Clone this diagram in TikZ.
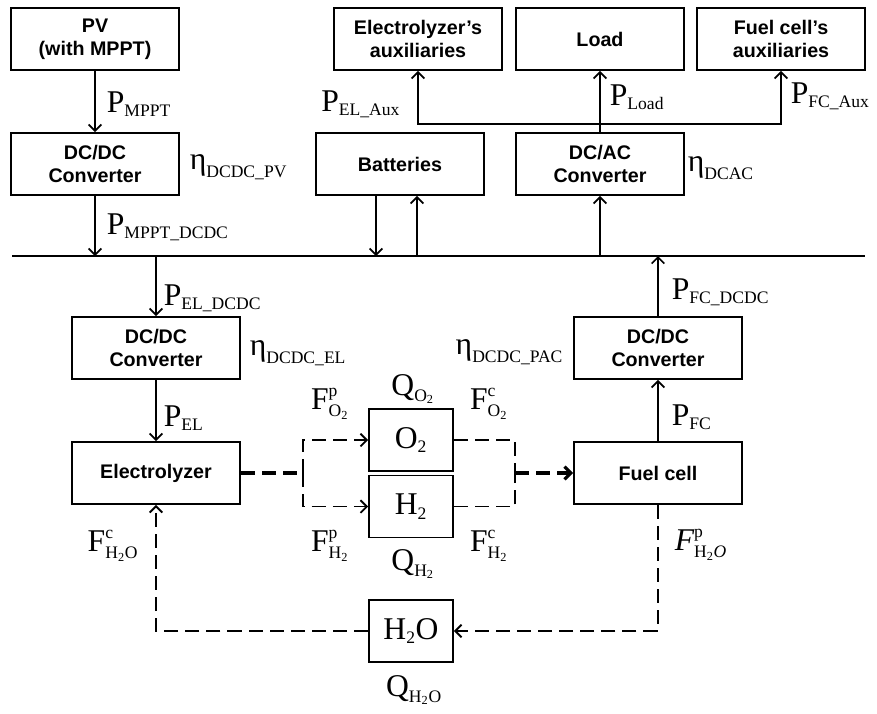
\documentclass[tikz,border=0pt]{standalone}
\usepackage{fontspec}
\setmainfont{Liberation Serif}
\newfontfamily\boxfont{Liberation Sans}
\usetikzlibrary{calc,arrows.meta}
\newcommand{\sub}[1]{\mbox{\fontsize{12.5}{14}\selectfont #1}}
\newcommand{\ps}[2]{$\mbox{#1}_{\sub{#2}}$}
\newcommand{\fs}[3]{$\mbox{#1}^{\sub{#2}}_{\sub{#3}}$}
\tikzset{
  blk/.style={draw, line width=1.3pt, minimum width=4.2cm, minimum height=1.55cm,
    align=center, font=\boxfont\bfseries\fontsize{14}{16.5}\selectfont},
  gas/.style={draw, line width=1.3pt, minimum width=2.1cm, minimum height=1.55cm,
    inner sep=0pt, font=\fontsize{22.5}{26}\selectfont},
  lbl/.style={inner sep=0pt, font=\fontsize{22.5}{26}\selectfont},
  flow/.style={dash pattern=on 10pt off 5pt, line width=1.3pt},
}

\begin{document}
\begin{tikzpicture}[x=0.025cm, y=-0.025cm, line width=1.2pt,
  >={Straight Barb[length=4.5pt,width=9pt]}]
\useasboundingbox (0,0) rectangle (877,713);

% blocks
\node[blk] (pv) at (95,39) {PV\\(with MPPT)};
\node[blk] (dcpv) at (95,164) {DC/DC\\Converter};
\node[blk] (elaux) at (418,39) {Electrolyzer’s\\auxiliaries};
\node[blk] (load) at (600,39) {Load};
\node[blk] (fcaux) at (781,39) {Fuel cell’s\\auxiliaries};
\node[blk] (bat) at (400,164) {Batteries};
\node[blk] (dcac) at (600,164) {DC/AC\\Converter};
\node[blk] (dcel) at (156,348) {DC/DC\\Converter};
\node[blk] (elec) at (156,473) {Electrolyzer};
\node[blk] (dcfc) at (658,348) {DC/DC\\Converter};
\node[blk] (fc) at (658,473) {Fuel cell};
\node[gas] (o2) at (411,440) {\ps{O}{2}};
\node[gas] (h2) at (411,506.5) {\ps{H}{2}};
\node[gas] (h2o) at (411,631) {H$_{\sub{2}}$O};

% DC bus
\coordinate (busL) at (12,256);
\coordinate (busR) at (865,256);
\draw[line width=1.4pt] (busL) -- (busR);

% power flows
\draw[->] (pv) -- (dcpv);
\draw[->] (dcpv) -- (dcpv |- busL);
\draw[->] ($(bat.south)+(-24,0)$) -- ($(bat.south |- busL)+(-24,0)$);
\draw[->] ($(bat.south |- busL)+(17,0)$) -- ($(bat.south)+(17,0)$);
\draw[->] (dcac |- busL) -- (dcac);
\coordinate (jn) at ($(dcac.north)+(0,-8)$);
\draw[->] (dcac) -- (load);
\draw[->] (jn) -| (elaux);
\draw[->] (jn) -| (fcaux);
\draw[->] (dcel |- busL) -- (dcel);
\draw[->] (dcel) -- (elec);
\draw[->] (dcfc) -- (dcfc |- busL);
\draw[->] (fc) -- (dcfc);

% gas and water flows
\coordinate (sp1) at (303,473);
\coordinate (sp2) at (515,473);
\draw[flow, line width=2.2pt] (elec) -- (sp1);
\draw[flow,->] (sp1) |- (o2);
\draw[flow,->] (sp1) |- (h2);
\draw[flow] (o2) -| (sp2);
\draw[flow] (h2) -| (sp2);
\draw[flow, line width=2.2pt, ->] (sp2) -- (fc);
\draw[flow,->] (fc) |- (h2o);
\draw[flow,->] (h2o) -| (elec);

% labels
\node[lbl, anchor=west] (lmppt) at (106,104) {\ps{P}{MPPT}};
\node[lbl, anchor=west] (etapv) at (189,167) {$\mbox{η}_{\sub{DCDC\_PV}}$};
\node[lbl, anchor=west] (lmpptdc) at (106,227) {\ps{P}{MPPT\_DCDC}};
\node[lbl, anchor=east] (lelaux) at (401,104) {\ps{P}{EL\_Aux}};
\node[lbl, anchor=west] (lload) at (609,97) {\ps{P}{Load}};
\node[lbl, anchor=west] (lfcaux) at (790,96) {\ps{P}{FC\_Aux}};
\node[lbl, anchor=west] (etaac) at (687,168) {$\mbox{η}_{\sub{DCAC}}$};
\node[lbl, anchor=west] (leldc) at (163,298) {\ps{P}{EL\_DCDC}};
\node[lbl, anchor=west] (etael) at (249,353) {$\mbox{η}_{\sub{DCDC\_EL}}$};
\node[lbl, anchor=west] (lel) at (163,418) {\ps{P}{EL}};
\node[lbl, anchor=west] (lfcdc) at (671,292) {\ps{P}{FC\_DCDC}};
\node[lbl, anchor=east] (etafc) at (564,352) {$\mbox{η}_{\sub{DCDC\_PAC}}$};
\node[lbl, anchor=west] (lfc) at (671,417) {\ps{P}{FC}};
\node[lbl] (lfpo) at (330,404) {\fs{F}{p}{O\textsubscript{2}}};
\node[lbl] (lqo) at (413,389) {\ps{Q}{O\textsubscript{2}}};
\node[lbl] (lfco) at (489,404) {\fs{F}{c}{O\textsubscript{2}}};
\node[lbl] (lfph) at (330,546) {\fs{F}{p}{H\textsubscript{2}}};
\node[lbl] (lqh) at (413,564) {\ps{Q}{H\textsubscript{2}}};
\node[lbl] (lfch) at (489,546) {\fs{F}{c}{H\textsubscript{2}}};
\node[lbl] (lfcw) at (113,546) {\fs{F}{c}{H\textsubscript{2}O}};
\node[lbl] (lqw) at (414,690) {\ps{Q}{H\textsubscript{2}O}};
\node[lbl] (lfpw) at (701,545) {\fs{\itshape F}{p}{H\textsubscript{2}\textit{O}}};

\end{tikzpicture}
\end{document}
